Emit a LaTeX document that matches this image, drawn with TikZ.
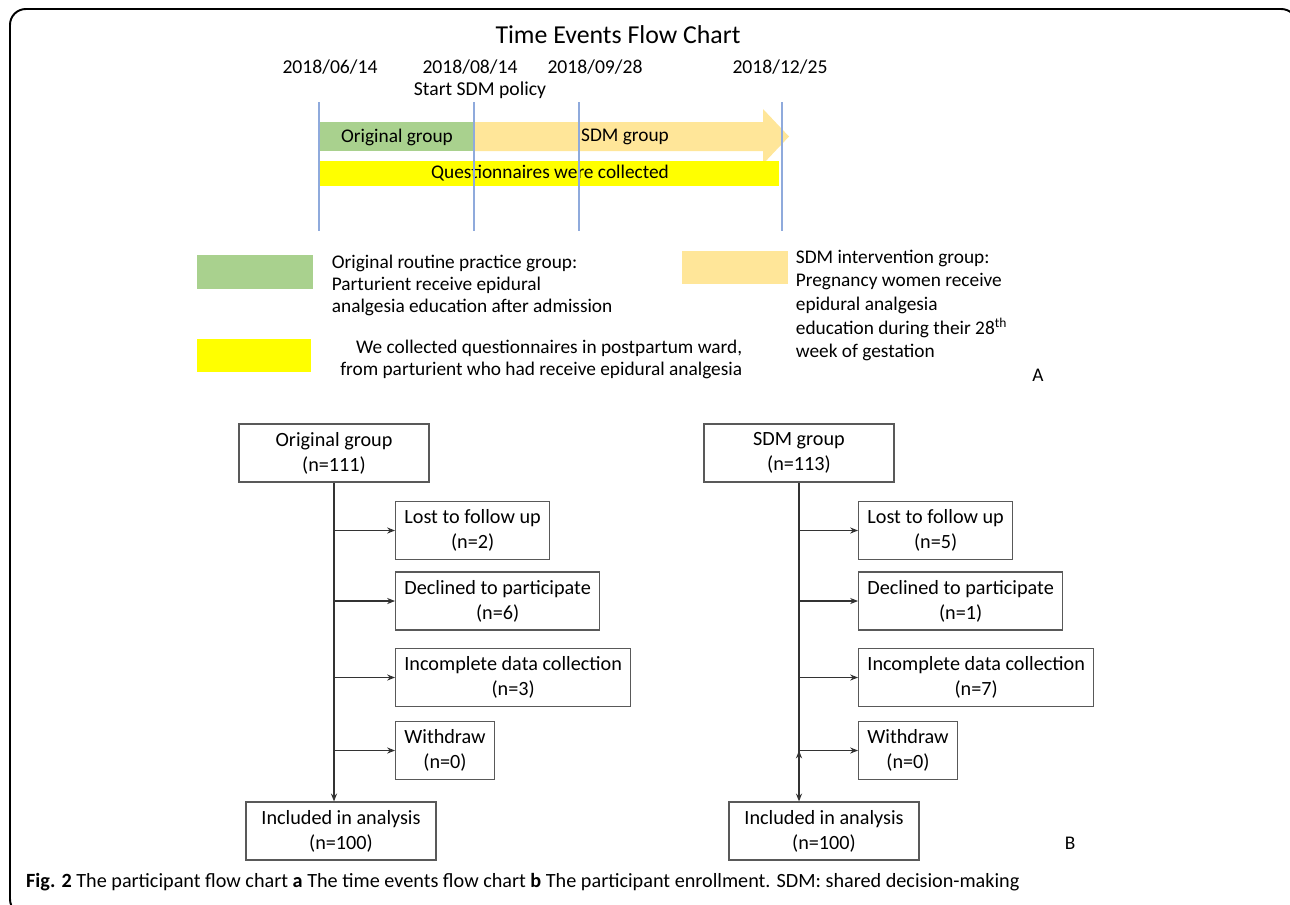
\documentclass[tikz,border=0pt]{standalone}
\usepackage{fontspec}
\setmainfont{Carlito}
\usetikzlibrary{arrows.meta, positioning}

\definecolor{origgreen}{HTML}{A9D18E}
\definecolor{sdmorange}{HTML}{FFE699}
\definecolor{qyellow}{HTML}{FFFF00}
\definecolor{tickblue}{HTML}{8FAADC}
\definecolor{boxgray}{HTML}{595959}

\begin{document}
\begin{tikzpicture}[x=0.02cm, y=-0.02cm,
  every node/.style={font=\fontsize{11}{13}\selectfont},
  datelabel/.style={font=\fontsize{11.2}{13}\selectfont},
  keytext/.style={align=left, anchor=west, inner sep=2pt},
  flowbox/.style={draw=boxgray, line width=0.7pt, align=center, inner xsep=5pt,
    minimum height=1.16cm, font=\fontsize{11.5}{14.2}\selectfont},
  widebox/.style={flowbox, minimum width=3.8cm},
  flowarrow/.style={-{Stealth[length=4.5pt, width=3.5pt]}, line width=0.6pt, draw=black!80}]
  \clip (0,0) rectangle (1290,904);
  \draw [line width=1.1pt, rounded corners=9pt] (10,9) rectangle (1297,915);

  % time line
  \node (title) [font=\fontsize{14.7}{16}\selectfont] at (618,35) {Time Events Flow Chart};
  \node (d1) [datelabel] at (330,67) {2018/06/14};
  \node (d2) [datelabel] at (470,67) {2018/08/14};
  \node (d3) [datelabel] at (595,67) {2018/09/28};
  \node (d4) [datelabel] at (780,67) {2018/12/25};
  \node (start) [datelabel] at (480,90) {Start SDM policy};

  \fill [origgreen] (320,122) rectangle (473,151);
  \fill [sdmorange] (474,122) -- (763,122) -- (763,109) -- (789,136.5)
    -- (763,164) -- (763,151) -- (474,151) -- cycle;
  \fill [qyellow] (320,161) rectangle (779,186);
  \node (origbar) at (397,137) {Original group};
  \node (sdmbar) at (625,137) {SDM group};
  \node (qbar) at (550,173.5) {Questionnaires were collected};
  \foreach \x in {319,474,579,782}
    \draw [tickblue, line width=0.6pt] (\x,102) -- (\x,231);

  % legend
  \fill [origgreen] (197,255) rectangle (313,289);
  \node (origkey) [keytext, font=\fontsize{11}{12.5}\selectfont] at (328,285)
    {Original routine practice group:\\Parturient receive epidural\\analgesia education after admission};
  \fill [qyellow] (197,339) rectangle (311,372);
  \node (qkey) [keytext, align=right, anchor=east, font=\fontsize{11}{12.5}\selectfont] at (746,359)
    {We collected questionnaires in postpartum ward,\\from parturient who had receive epidural analgesia};
  \fill [sdmorange] (682,251) rectangle (788,284);
  \node (sdmkey) [keytext, font=\fontsize{11}{13.4}\selectfont] at (792,305.5)
    {SDM intervention group:\\Pregnancy women receive\\epidural analgesia\\education during their 28\textsuperscript{th}\\week of gestation};
  \node (labA) at (1038,375) {A};

  % enrollment, original group
  \node (orig) [widebox] at (334,453) {Original group\\(n=111)};
  \node (lost1) [flowbox, anchor=west] at (395,530.5) {Lost to follow up\\(n=2)};
  \node (decl1) [flowbox, anchor=west] at (395,601) {Declined to participate\\(n=6)};
  \node (inc1) [flowbox, anchor=west] at (395,677.5) {Incomplete data collection\\(n=3)};
  \node (wd1) [flowbox, anchor=west] at (395,750.5) {Withdraw\\(n=0)};
  \node (incl1) [widebox] at (341,831) {Included in analysis\\(n=100)};

  % enrollment, SDM group
  \node (sdm) [widebox] at (799,453) {SDM group\\(n=113)};
  \node (lost2) [flowbox, anchor=west] at (858,530.5) {Lost to follow up\\(n=5)};
  \node (decl2) [flowbox, anchor=west] at (858,601) {Declined to participate\\(n=1)};
  \node (inc2) [flowbox, anchor=west] at (858,677.5) {Incomplete data collection\\(n=7)};
  \node (wd2) [flowbox, anchor=west] at (858,750.5) {Withdraw\\(n=0)};
  \node (incl2) [widebox] at (824,831) {Included in analysis\\(n=100)};
  \node (labB) at (1070,843) {B};

  \draw [flowarrow] (orig.south) -- (orig.south |- incl1.north);
  \draw [flowarrow] (sdm.south) -- (sdm.south |- incl2.north);
  \path [flowarrow]
    (orig.south |- lost1.west) edge (lost1.west)
    (orig.south |- decl1.west) edge (decl1.west)
    (orig.south |- inc1.west) edge (inc1.west)
    (orig.south |- wd1.west) edge (wd1.west)
    (sdm.south |- lost2.west) edge (lost2.west)
    (sdm.south |- decl2.west) edge (decl2.west)
    (sdm.south |- inc2.west) edge (inc2.west)
    (sdm.south |- wd2.west) edge (wd2.west);

  \node (caption) [anchor=west, font=\fontsize{11.5}{13}\selectfont] at (20,882)
    {\textbf{Fig. 2} The participant flow chart \textbf{a} The time events flow chart
     \textbf{b} The participant enrollment. SDM: shared decision-making};
\end{tikzpicture}
\end{document}
